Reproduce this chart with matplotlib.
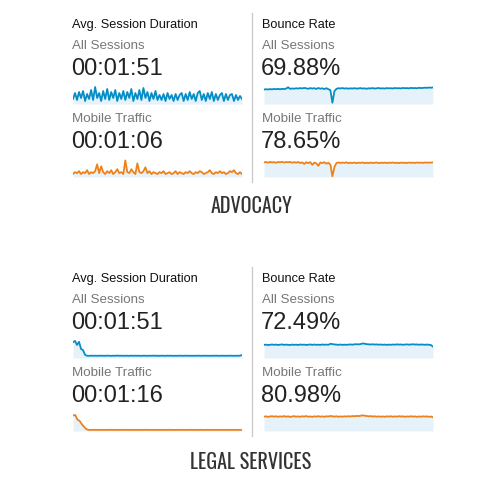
import numpy as np
import matplotlib
matplotlib.use("Agg")
import matplotlib.pyplot as plt
from matplotlib import font_manager

# ---- data ----
sections = ["ADVOCACY", "LEGAL SERVICES"]
metric_titles = ["Avg. Session Duration", "Bounce Rate"]
segment_names = ["All Sessions", "Mobile Traffic"]

adv_duration_kpi = ["00:01:51", "00:01:06"]
adv_bounce_kpi = ["69.88%", "78.65%"]
legal_duration_kpi = ["00:01:51", "00:01:16"]
legal_bounce_kpi = ["72.49%", "80.98%"]

# avg. session duration, seconds
adv_duration_all = [
    95, 125, 90, 130, 100, 135, 85, 120, 95, 140, 90, 155, 100, 125, 85, 135, 95, 145, 90, 130, 100,
    140, 85, 125, 95, 135, 90, 130, 100, 145, 85, 125, 95, 140, 90, 150, 100, 130, 85, 125, 95, 135, 90,
    115, 90, 120, 85, 125, 95, 115, 85, 120, 90, 115, 125, 85, 120, 90, 130, 95, 120, 85, 125, 135, 90,
    120, 85, 125, 95, 130, 85, 120, 90, 115, 125, 85, 120, 90, 115, 120, 85, 115, 90, 110, 95]
adv_duration_mobile = [
    30, 50, 40, 60, 30, 50, 40, 70, 30, 50, 40, 60,
    130, 40, 110, 50, 30, 60, 40, 70, 30, 50, 80, 40, 50, 30, 170, 50, 40, 80, 50, 30, 140, 50, 40,
    60, 100, 40, 60, 30, 50,
    40, 30, 50, 40, 60, 30, 40, 50, 30, 40, 60, 30, 50, 40, 30, 50, 40, 60, 40, 30, 50, 40, 60, 50,
    30, 40, 50, 70, 40, 30, 50, 40, 60, 40, 50, 30, 40, 60, 50, 70, 40, 30, 50, 30]
legal_duration_all = [
    700, 760, 580, 720, 400, 350, 140,
    100, 95, 105, 98, 102, 96, 104, 99, 101, 97, 106, 100, 95, 103, 98, 108, 99, 104, 97, 102, 100,
    96, 105, 99, 103, 98, 101, 95, 104, 100, 97, 102, 99, 106, 98, 101, 96, 103, 100, 97, 104, 99,
    102, 95, 101, 98, 103, 100, 97, 105, 99, 102, 96, 101, 98, 104, 100, 97, 103, 99, 101, 96, 102,
    98, 105, 100, 97, 103, 99, 101, 98, 104, 100, 96, 102, 99, 104, 130]
legal_duration_mobile = [
    950, 980, 700, 620, 420, 260, 120,
    70, 66, 72, 68, 71, 65, 73, 69, 70, 67, 74, 68, 71, 66, 72, 70, 67, 73, 69, 71, 66, 70, 68, 72,
    69, 67, 73, 70, 68, 71, 66, 72, 69, 70, 67, 71, 68, 73, 69, 66, 70, 72, 68, 71, 67, 69, 73, 70,
    66, 71, 68, 72, 69, 67, 70, 71, 68, 73, 66, 70, 69, 72, 67, 71, 68, 70, 69, 72, 67, 70, 71]

# bounce rate, %
adv_bounce_all = [
    68.5, 69.0, 68.6, 69.2, 68.8, 69.4, 69.0, 69.5, 68.9, 69.6, 69.2, 70.0, 72.0, 69.5, 70.2, 69.8,
    70.5, 70.0, 70.8, 70.2, 71.0, 70.4, 69.6, 70.8, 70.0, 70.6, 69.4, 70.9, 69.8, 70.4, 69.2, 70.6,
    69.0, 67.5, 48.0,
    66.0, 69.5, 70.6, 70.2, 70.8, 70.0, 70.5, 69.8, 70.4, 70.1, 70.6, 69.9, 70.3, 70.7, 70.0, 70.4,
    69.7, 70.5, 70.2, 70.8, 70.0, 70.4, 70.9, 70.1, 70.5, 70.0, 70.8, 70.3, 70.6, 70.1, 70.9, 70.4,
    70.7, 70.2, 71.0, 70.5, 70.8, 70.3, 71.1, 70.6, 70.9, 70.4, 71.2, 70.8, 71.0, 71.4, 71.1, 71.6,
    71.3, 71.8]
adv_bounce_mobile = [
    79.5, 80.2, 79.0, 80.5, 79.4, 80.0, 78.8, 80.3, 79.6, 80.6, 79.2, 80.1, 79.7, 80.4, 78.9, 80.0,
    79.0, 80.2, 78.5, 79.6, 77.0, 79.8, 78.2, 80.0, 75.5, 79.2, 78.0, 74.0, 79.5, 78.4, 79.8, 77.5,
    78.8, 76.0, 57.0,
    72.0, 78.5, 79.4, 78.6, 79.2, 78.8, 79.5, 78.4, 79.0, 78.6, 79.3, 78.2, 79.1, 78.7, 79.4, 78.3,
    79.0, 78.5, 79.2, 78.6, 78.9, 79.3, 78.4, 79.0, 78.7, 79.2, 78.5, 79.1, 78.8, 79.4, 78.6, 79.0,
    78.3, 79.2, 78.7, 79.0, 78.5, 79.3, 78.8, 79.1, 78.6, 79.4, 78.9, 79.2, 78.7, 79.5, 79.0, 79.3,
    79.1, 79.6]
legal_bounce_all = [
    71.8, 72.3, 71.6, 72.0, 72.5, 71.9, 72.4, 71.7, 72.2, 72.6, 71.8, 72.3, 72.0, 71.6, 72.4, 71.9,
    72.2, 71.7, 72.5, 72.0, 72.3, 71.8, 72.1, 72.6, 71.9, 72.4, 72.0, 72.2, 71.8, 72.5, 72.1, 72.3,
    72.0, 73.6, 73.2, 72.6, 72.3, 72.0, 72.4, 71.9, 72.2, 72.0, 72.3, 72.6, 72.2, 72.8, 73.0, 72.7,
    73.2, 74.2, 73.8, 73.1, 72.8, 72.5, 72.9, 72.4, 72.7, 72.2, 72.5, 72.0, 72.4, 71.9, 72.3, 72.0,
    72.5, 72.1, 72.8, 72.3, 72.6, 72.0, 72.4, 72.7, 72.2, 72.5, 72.9, 72.4, 72.6, 72.1, 72.5, 72.3,
    72.0, 72.4, 72.1, 71.5, 69.0]
legal_bounce_mobile = [
    80.6, 81.2, 80.4, 81.0, 81.4, 80.7, 81.3, 80.5, 81.1, 80.8, 81.5, 80.6, 81.2, 80.3, 81.0, 81.4,
    80.7, 81.1, 80.5, 81.3, 80.9, 81.6, 80.6, 81.0, 80.4, 81.2, 80.8, 81.4, 80.7, 81.1, 80.5, 81.3,
    80.9, 81.7, 81.2, 80.8, 81.3, 80.6, 81.0, 80.7, 81.2, 80.9, 81.4, 81.0, 81.6, 81.3, 81.8, 81.5,
    82.0, 82.6, 82.1, 81.7, 81.2, 81.5, 80.9, 81.3, 80.7, 81.1, 80.6, 81.0, 80.5, 81.2, 80.8, 81.3,
    80.6, 81.1, 80.7, 81.4, 80.9, 81.2, 80.5, 81.0, 80.7, 81.3, 80.8, 81.1, 80.4, 81.0, 80.6, 81.2,
    80.8, 81.1, 80.5, 80.9, 79.8]

# ---- style ----
BLUE = "#058dc7"
ORANGE = "#ef8119"
FILL = "#e6f2fa"
TEXT = "#222222"
GREY = "#777777"
SANS = ["Liberation Sans", "DejaVu Sans"]

installed = {f.name for f in font_manager.fontManager.ttflist}
# condensed face for the section headings, with the size that gives ~16px caps
heading_fonts = [("Oswald", 14.5), ("Roboto Condensed", 16), ("Barlow Semi Condensed", 16),
                 ("Barlow Condensed", 16.5), ("Archivo Narrow", 16)]
HEAD_FONT, HEAD_SIZE = next(((n, s) for n, s in heading_fonts if n in installed), ("DejaVu Sans", 13))

W = H = 500
fig = plt.figure(figsize=(5, 5), dpi=100)


def fx(x):
    return x / W


def fy(y):
    return 1 - y / H


def sparkline(x, y, values, color, ylim):
    ax = fig.add_axes([fx(x), fy(y + 18), 169 / W, 18 / H])
    xs = np.arange(len(values))
    ax.fill_between(xs, values, ylim[0], color=FILL, lw=0)
    ax.plot(xs, values, color=color, lw=1.3, solid_joinstyle="round")
    ax.set_xlim(0, len(values) - 1)
    ax.set_ylim(*ylim)
    ax.axis("off")


def column(x, top, title, kpis, series, ylims, spark_x):
    fig.text(fx(x), fy(top + 28), title, fontsize=9.2, color="#111111", family=SANS, va="baseline")
    for k in range(2):
        off = top + k * 73
        fig.text(fx(x), fy(off + 49), segment_names[k], fontsize=9.6, color=GREY,
                 family=SANS, va="baseline")
        fig.text(fx(x - 1), fy(off + 75), kpis[k], fontsize=17, color=TEXT,
                 family=SANS, va="baseline")
        sparkline(spark_x, off + 86, series[k], [BLUE, ORANGE][k], ylims[k])


blocks = [
    (adv_duration_kpi, [adv_duration_all, adv_duration_mobile], [(70, 160), (0, 185)],
     adv_bounce_kpi, [adv_bounce_all, adv_bounce_mobile], [(46, 74), (56, 85)], 213),
    (legal_duration_kpi, [legal_duration_all, legal_duration_mobile], [(0, 800), (0, 1100)],
     legal_bounce_kpi, [legal_bounce_all, legal_bounce_mobile], [(50, 80), (60, 86)], 469),
]

for i, (dk, ds, dl, bk, bs, bl, title_y) in enumerate(blocks):
    top = i * 254
    column(72, top, metric_titles[0], dk, ds, dl, 73)
    column(262, top, metric_titles[1], bk, bs, bl, 264)
    fig.add_artist(plt.Line2D([fx(252), fx(252)], [fy(top + 13), fy(top + 182)],
                              color="#cccccc", lw=1))
    fig.text(fx(251), fy(title_y), sections[i], fontsize=HEAD_SIZE, color="#333333",
             family=[HEAD_FONT, "DejaVu Sans"], ha="center", va="baseline")

fig.savefig("out.png", dpi=100, facecolor="white")
